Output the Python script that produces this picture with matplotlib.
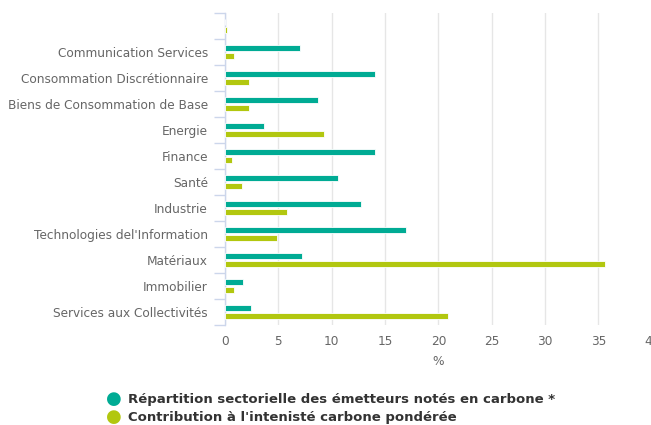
import matplotlib
matplotlib.use("Agg")
import matplotlib.pyplot as plt
import numpy as np

categories = ["", "Communication Services", "Consommation Discrétionnaire",
              "Biens de Consommation de Base", "Energie", "Finance", "Santé",
              "Industrie", "Technologies del'Information", "Matériaux",
              "Immobilier", "Services aux Collectivités"]
repartition = [0.0, 7.0, 14.1, 8.7, 3.7, 14.1, 10.55, 12.75, 17.0, 7.25, 1.7, 2.45]
contribution = [0.15, 0.8, 2.25, 2.25, 9.3, 0.7, 1.6, 5.85, 4.85, 35.6, 0.85, 20.95]
series_names = ["Répartition sectorielle des émetteurs notés en carbone *",
                "Contribution à l'intenisté carbone pondérée"]
xticks = [0, 5, 10, 15, 20, 25, 30, 35, 40]

teal = "#00AB94"
green = "#B2C70F"

W, H = 651, 425
fig = plt.figure(figsize=(W/100, H/100), dpi=100)
left, right, top, bottom = 225, 651.7, 13, 325
ax = fig.add_axes([left/W, 1-bottom/H, (right-left)/W, (bottom-top)/H])

y = np.arange(len(categories))
h = 0.215
off = 0.16
ax.barh(y - off, repartition, height=h, color=teal, edgecolor="white", linewidth=0.6, zorder=3)
ax.barh(y + off, contribution, height=h, color=green, edgecolor="white", linewidth=0.6, zorder=3)

ax.set_xlim(0, 40)
ax.set_ylim(len(categories) - 0.5, -0.5)
ax.set_xticks(xticks)
ax.set_xticklabels([str(v) for v in xticks])
ax.set_yticks(y)
ax.set_yticklabels(categories)
ax.set_yticks(np.arange(len(categories) + 1) - 0.5, minor=True)
ax.tick_params(axis="y", which="major", length=0, pad=12.3, labelsize=8.75, labelcolor="#666666")
ax.tick_params(axis="y", which="minor", length=8, color="#ccd6eb", width=1)
ax.tick_params(axis="x", length=0, pad=7.5, labelsize=8.75, labelcolor="#666666")
ax.grid(axis="x", color="#e6e6e6", linewidth=1, zorder=0)
for s in ["top", "right", "bottom"]:
    ax.spines[s].set_visible(False)
ax.spines["left"].set_color("#ccd6eb")
ax.spines["left"].set_linewidth(1)
ax.set_xlabel("%", fontsize=8.75, color="#666666", labelpad=4.5)

# legend
for i, (name, col) in enumerate(zip(series_names, [teal, green])):
    yy = 1 - (399 + 18*i)/H
    fig.text(106/W, yy, "\u25CF", color=col, fontsize=13, ha="left", va="center")
    fig.text(128/W, yy, name, color="#333333", fontsize=9.5, fontweight="bold", ha="left", va="center")

fig.savefig("out.png", dpi=100)
